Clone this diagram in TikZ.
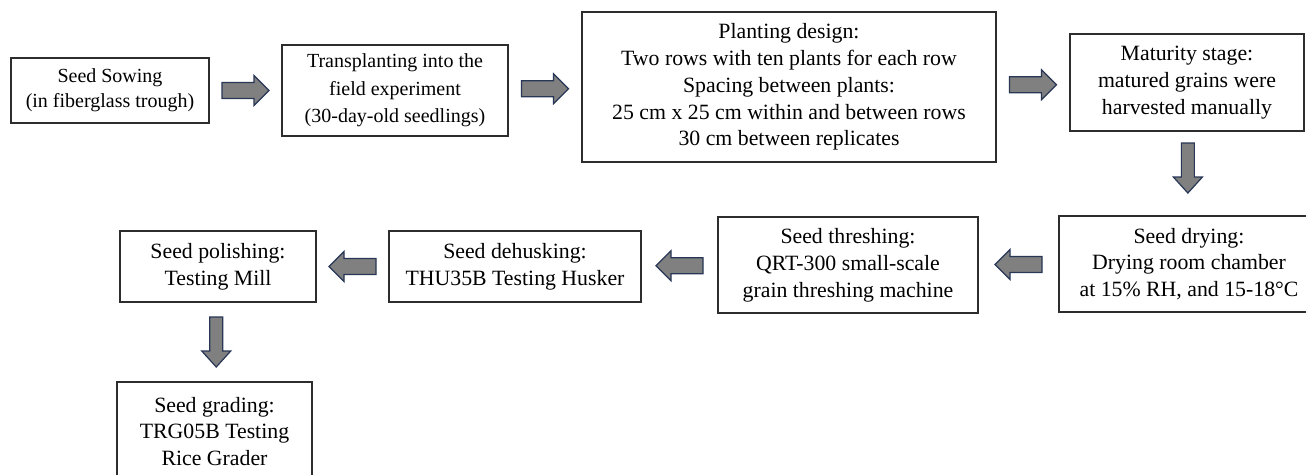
\documentclass[tikz,border=0pt]{standalone}
\usepackage{fontspec}
\setmainfont{Liberation Serif}
\usetikzlibrary{calc}
\definecolor{arrowfill}{RGB}{128,128,128}
\definecolor{arrowline}{RGB}{40,55,85}
\definecolor{boxline}{RGB}{45,45,45}
\tikzset{
  box/.style={draw=boxline, line width=1.2pt, fill=white, inner sep=0pt, align=center, text=black},
  fsmall/.style={font=\fontsize{20}{25}\selectfont},
  fmid/.style={font=\fontsize{20}{27.5}\selectfont},
  fbig/.style={font=\fontsize{21.8}{26.8}\selectfont},
  blockarrow/.style={fill=arrowfill, draw=arrowline, line width=1.2pt, line join=miter},
  pics/rarrow/.style={code={\draw[blockarrow] (-23.5,-8) -- (8.5,-8) -- (8.5,-15) -- (23.5,0) -- (8.5,15) -- (8.5,8) -- (-23.5,8) -- cycle;}},
  pics/darrow/.style={code={\draw[blockarrow] (-25,-6.5) -- (9,-6.5) -- (9,-14.5) -- (25,0) -- (9,14.5) -- (9,6.5) -- (-25,6.5) -- cycle;}},
}
\begin{document}
\begin{tikzpicture}[x=1pt,y=-1pt]
\clip (0,0) rectangle (1306,474);
\fill[white] (0,0) rectangle (1306,474);

% Row 1
\node[box, fsmall, minimum width=198pt, minimum height=65pt] (sow) at (110,90.5)
  {Seed Sowing\\(in fiberglass trough)};
\node[box, fmid, minimum width=226pt, minimum height=91pt] (trans) at (395,90.5)
  {Transplanting into the\\field experiment\\(30-day-old seedlings)};
\node[box, fbig, minimum width=414pt, minimum height=150pt] (plant) at (789,87)
  {Planting design:\\Two rows with ten plants for each row\\Spacing between plants:\\25 cm x 25 cm within and between rows\\30 cm between replicates};
\node[box, fbig, minimum width=234pt, minimum height=97pt] (mat) at (1187,82.5)
  {Maturity stage:\\matured grains were\\harvested manually};

% Row 2
\node[box, fbig, minimum width=260pt, minimum height=96pt] (dry) at (1189,264)
  {Seed drying:\\Drying room chamber\\at 15\% RH, and 15-18°C};
\node[box, fbig, minimum width=260pt, minimum height=96pt] (thresh) at (848,265)
  {Seed threshing:\\QRT-300 small-scale\\grain threshing machine};
\node[box, fbig, minimum width=252pt, minimum height=71pt] (dehusk) at (515,266.5)
  {Seed dehusking:\\THU35B Testing Husker};
\node[box, fbig, minimum width=196pt, minimum height=71pt] (polish) at (218,266.5)
  {Seed polishing:\\Testing Mill};

% Row 3
\node[box, fbig, minimum width=195pt, minimum height=99pt] (grade) at (214.5,431.5)
  {Seed grading:\\TRG05B Testing\\Rice Grader};

% Block arrows
\pic at ($(sow.east)!0.5!(trans.west)$) {rarrow};
\pic at ($(trans.east)!0.5!(plant.west)$) {rarrow};
\pic at ($(plant.east)!0.5!(mat.west)$) {rarrow};
\pic[rotate=-90] at ($(mat.south)!0.435!(dry.north)$) {darrow};
\pic[rotate=180] at ($(dry.west)!0.5!(thresh.east)$) {rarrow};
\pic[rotate=180] at ($(thresh.west)!0.5!(dehusk.east)$) {rarrow};
\pic[rotate=180] at ($(dehusk.west)!0.5!(polish.east)$) {rarrow};
\pic[rotate=-90] at ($(polish.south)!0.5!(grade.north)$) {darrow};
\end{tikzpicture}
\end{document}
